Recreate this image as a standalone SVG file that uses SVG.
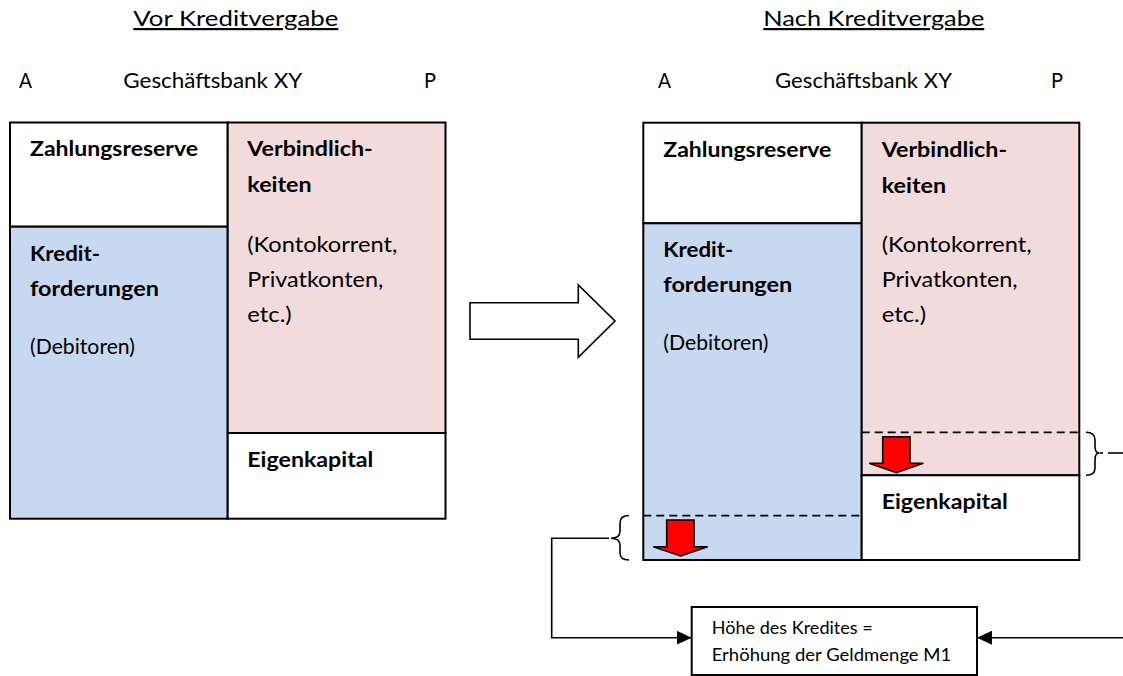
<svg xmlns="http://www.w3.org/2000/svg" width="1123" height="676" viewBox="0 0 1123 676">
<style>
text{font-family:Lato,"Open Sans","Liberation Sans",sans-serif;fill:#000}
.t{font-size:21.5px}
.b{font-size:21.5px;font-weight:bold}
.s{font-size:18px}
.title{font-size:22px;text-decoration:underline}
.cell{stroke:#000;stroke-width:2}
.w{fill:#fff}
.blue{fill:#C6D9F1}
.pink{fill:#F2DCDB}
.dash{stroke:#000;stroke-width:1.8;stroke-dasharray:8 5;fill:none}
.red{fill:#FF0000;stroke:#000;stroke-width:1.6;stroke-linejoin:miter}
.brace{fill:none;stroke:#000;stroke-width:1.6}
.conn{fill:none;stroke:#000;stroke-width:1.6}
</style>
<defs>
<marker id="ah" markerWidth="16" markerHeight="14" refX="15" refY="7" orient="auto" markerUnits="userSpaceOnUse">
<path d="M0,0 L15,7 L0,14 Z" fill="#000"/>
</marker>
<clipPath id="boxclip"><rect x="691.7" y="607" width="285.3" height="66.5"/></clipPath>
</defs>
<rect width="1123" height="676" fill="#fff"/>

<g id="titles">
<text class="title" x="133.3" y="26" textLength="205" lengthAdjust="spacingAndGlyphs">Vor Kreditvergabe</text>
<text class="t" x="19" y="88.3" textLength="13" lengthAdjust="spacingAndGlyphs">A</text>
<text class="t" x="123.3" y="88.3" textLength="179" lengthAdjust="spacingAndGlyphs">Geschäftsbank XY</text>
<text class="t" x="424" y="88.3" textLength="12" lengthAdjust="spacingAndGlyphs">P</text>
<text class="title" x="763.3" y="26" textLength="221" lengthAdjust="spacingAndGlyphs">Nach Kreditvergabe</text>
<text class="t" x="658" y="88.3" textLength="13" lengthAdjust="spacingAndGlyphs">A</text>
<text class="t" x="775" y="88.3" textLength="177" lengthAdjust="spacingAndGlyphs">Geschäftsbank XY</text>
<text class="t" x="1051" y="88.3" textLength="12" lengthAdjust="spacingAndGlyphs">P</text>
</g>

<g id="left-zahlungsreserve">
<rect class="cell w" x="10" y="122.5" width="217.7" height="104.2"/>
<text class="b" x="30" y="156" textLength="168" lengthAdjust="spacingAndGlyphs">Zahlungsreserve</text>
</g>
<g id="left-kreditforderungen">
<rect class="cell blue" x="10" y="226.7" width="217.7" height="292"/>
<text class="b" x="30" y="260.5" textLength="70" lengthAdjust="spacingAndGlyphs">Kredit-</text>
<text class="b" x="30" y="295.5" textLength="129" lengthAdjust="spacingAndGlyphs">forderungen</text>
<text class="t" x="30" y="354" textLength="105" lengthAdjust="spacingAndGlyphs">(Debitoren)</text>
</g>
<g id="left-verbindlichkeiten">
<rect class="cell pink" x="227.7" y="122.5" width="217.8" height="310.5"/>
<text class="b" x="247.3" y="156" textLength="125.4" lengthAdjust="spacingAndGlyphs">Verbindlich-</text>
<text class="b" x="247.3" y="191.5" textLength="64.4" lengthAdjust="spacingAndGlyphs">keiten</text>
<text class="t" x="247.3" y="251.7" textLength="150" lengthAdjust="spacingAndGlyphs">(Kontokorrent,</text>
<text class="t" x="247.3" y="286.7" textLength="136" lengthAdjust="spacingAndGlyphs">Privatkonten,</text>
<text class="t" x="247.3" y="321.7" textLength="44.4" lengthAdjust="spacingAndGlyphs">etc.)</text>
</g>
<g id="left-eigenkapital">
<rect class="cell w" x="227.7" y="433" width="217.8" height="85.7"/>
<text class="b" x="247.3" y="467.3" textLength="126" lengthAdjust="spacingAndGlyphs">Eigenkapital</text>
</g>

<g id="transition-arrow">
<polygon points="470,302.7 578.3,302.7 578.3,285 615,321 578.3,357.3 578.3,339.3 470,339.3" fill="#fff" stroke="#000" stroke-width="1.6"/>
</g>

<g id="right-zahlungsreserve">
<rect class="cell w" x="643.3" y="122.7" width="218.4" height="100.6"/>
<text class="b" x="663.3" y="157" textLength="168" lengthAdjust="spacingAndGlyphs">Zahlungsreserve</text>
</g>
<g id="right-kreditforderungen">
<rect class="cell blue" x="643.3" y="223.3" width="218.4" height="336.7"/>
<text class="b" x="663.3" y="256.5" textLength="70" lengthAdjust="spacingAndGlyphs">Kredit-</text>
<text class="b" x="663.3" y="291.5" textLength="129" lengthAdjust="spacingAndGlyphs">forderungen</text>
<text class="t" x="663.3" y="349.5" textLength="105" lengthAdjust="spacingAndGlyphs">(Debitoren)</text>
<line class="dash" x1="643.3" y1="515.7" x2="861.7" y2="515.7"/>
<polygon class="red" points="666.7,520 694,520 694,546.7 707.7,546.7 680.7,556 653.3,546.7 666.7,546.7"/>
</g>
<g id="right-verbindlichkeiten">
<rect class="cell pink" x="861.7" y="122.7" width="217.6" height="352.6"/>
<text class="b" x="881.7" y="157" textLength="125.4" lengthAdjust="spacingAndGlyphs">Verbindlich-</text>
<text class="b" x="881.7" y="192.5" textLength="64.4" lengthAdjust="spacingAndGlyphs">keiten</text>
<text class="t" x="881.7" y="251.7" textLength="150" lengthAdjust="spacingAndGlyphs">(Kontokorrent,</text>
<text class="t" x="881.7" y="286.7" textLength="136" lengthAdjust="spacingAndGlyphs">Privatkonten,</text>
<text class="t" x="881.7" y="321.7" textLength="44.4" lengthAdjust="spacingAndGlyphs">etc.)</text>
<line class="dash" x1="861.7" y1="432.3" x2="1079.3" y2="432.3"/>
<polygon class="red" points="882.7,436.7 910,436.7 910,463.3 923.3,463.3 896.3,472.7 869.3,463.3 882.7,463.3"/>
</g>
<g id="right-eigenkapital">
<rect class="cell w" x="861.7" y="475.3" width="217.6" height="84.7"/>
<text class="b" x="881.7" y="509.3" textLength="126" lengthAdjust="spacingAndGlyphs">Eigenkapital</text>
</g>

<g id="braces">
<path class="brace" d="M629,515.5 Q620,515.5 620,523 L620,531 Q620,538.3 611,538.3 Q620,538.3 620,545.5 L620,553 Q620,560 629,560"/>
<path class="brace" d="M1086,432.3 Q1095,432.3 1095,440 L1095,446 Q1095,453 1099,453 Q1095,453 1095,460 L1095,468 Q1095,475.3 1086,475.3"/>
</g>

<g id="result-box">
<rect x="691.7" y="607" width="285.3" height="68" fill="#fff" stroke="#000" stroke-width="2"/>
<g clip-path="url(#boxclip)">
<text class="s" x="711.7" y="634.3" textLength="161" lengthAdjust="spacingAndGlyphs">Höhe des Kredites =</text>
<text class="s" x="711.7" y="660.5" textLength="239.6" lengthAdjust="spacingAndGlyphs">Erhöhung der Geldmenge M1</text>
</g>
</g>

<g id="connectors">
<path class="conn" d="M609,538.3 H551.7 V637.7 H691.7" marker-end="url(#ah)"/>
<line class="conn" x1="1099.5" y1="453" x2="1103" y2="453"/>
<line class="conn" x1="1108" y1="453" x2="1123" y2="453"/>
<path class="conn" d="M1123,637.7 H977" marker-end="url(#ah)"/>
</g>
</svg>
